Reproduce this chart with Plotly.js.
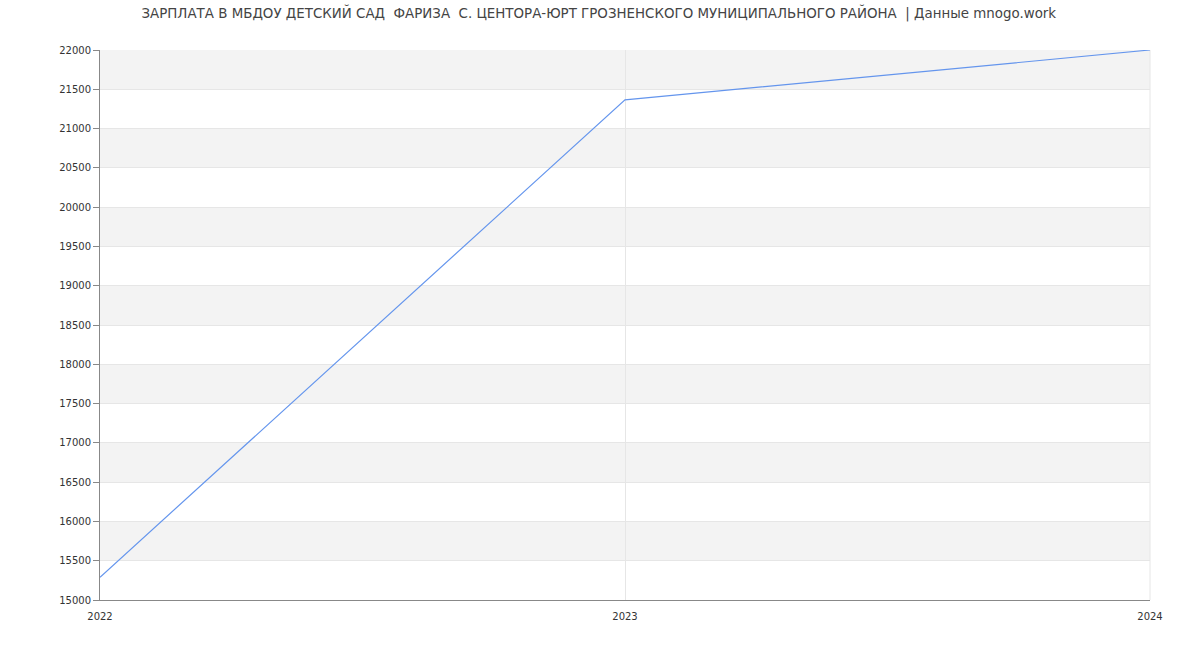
<!DOCTYPE html>
<html>
<head>
<meta charset="utf-8">
<script src="https://cdn.plot.ly/plotly-3.0.1.min.js"></script>
<style>html,body{margin:0;padding:0;background:#fff;}</style>
</head>
<body>
<div id="chart" style="width:1200px;height:650px;"></div>
<script>
const years = ["2022", "2023", "2024"];
const salary = [15290, 21365, 22000];
const bandStarts = [15500, 16500, 17500, 18500, 19500, 20500, 21500];

const shapes = bandStarts.map(function (b) {
  return {
    type: "rect", xref: "paper", yref: "y", x0: 0, x1: 1, y0: b, y1: b + 500,
    fillcolor: "#f3f3f3", line: { width: 0 }, layer: "below"
  };
});

const trace = {
  x: years.map(Number), y: salary, type: "scatter", mode: "lines",
  line: { color: "#6495ED", width: 1.2 }, hoverinfo: "x+y"
};

const layout = {
  width: 1200, height: 650,
  margin: { l: 100, r: 50, t: 50, b: 50 },
  paper_bgcolor: "#ffffff", plot_bgcolor: "#ffffff",
  showlegend: false,
  title: {
    text: "ЗАРПЛАТА В МБДОУ ДЕТСКИЙ САД  ФАРИЗА  С. ЦЕНТОРА-ЮРТ ГРОЗНЕНСКОГО МУНИЦИПАЛЬНОГО РАЙОНА  | Данные mnogo.work",
    x: 0.499, xanchor: "center", y: 0.979, yanchor: "middle",
    font: { family: "DejaVu Sans", size: 13.4, color: "#444" }
  },
  font: { family: "DejaVu Sans", size: 10, color: "#333" },
  xaxis: {
    range: [2022, 2024], tickvals: years.map(Number), ticktext: years,
    showgrid: true, gridcolor: "#e6e6e6", gridwidth: 1,
    showline: true, linecolor: "#888", linewidth: 1,
    ticks: "outside", ticklen: 7, tickcolor: "rgba(0,0,0,0)",
    zeroline: false, fixedrange: true,
    tickfont: { size: 10, color: "#333" }
  },
  yaxis: {
    range: [15000, 22000], dtick: 500, tick0: 15000, tickformat: "d",
    showgrid: true, gridcolor: "#e6e6e6", gridwidth: 1,
    showline: true, linecolor: "#888", linewidth: 1,
    ticks: "outside", ticklen: 6, tickcolor: "#888",
    zeroline: false, fixedrange: true,
    tickfont: { size: 10, color: "#333" }
  },
  shapes: shapes.concat([{
    type: "line", xref: "paper", yref: "paper", x0: 1, x1: 1, y0: 0, y1: 1,
    line: { color: "#e6e6e6", width: 1 }, layer: "below"
  }])
};

Plotly.newPlot("chart", [trace], layout, { displayModeBar: false });
</script>
</body>
</html>
